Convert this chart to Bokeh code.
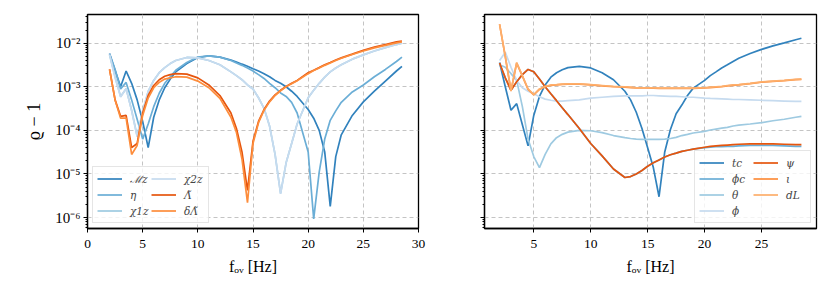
from bokeh.plotting import figure
from bokeh.models import (FixedTicker, Legend, LegendItem, CustomJSTickFormatter,
                          Range1d, ColumnDataSource)
from bokeh.layouts import row
from bokeh.embed import file_html
from bokeh.resources import INLINE

# ---------------- data ----------------
freq = [2, 2.5, 3, 3.5, 4, 4.5, 5, 5.5, 6, 6.5, 7, 7.5, 8, 9, 10, 11, 12, 13, 13.5, 14,
        14.5, 15, 15.5, 16, 16.5, 17, 17.5, 18, 18.5, 19, 20, 20.5, 21, 21.5, 22, 22.5,
        23, 24, 25, 26, 27, 28, 28.5]

# left panel: intrinsic parameters
Mz = [5.8e-3, 2.4e-3, 1.0e-3, 2.3e-3, 1.2e-3, 5.0e-4, 1.6e-4, 4.0e-5, 2.0e-4, 5.0e-4,
      9.5e-4, 1.5e-3, 2.2e-3, 3.4e-3, 4.7e-3, 5.1e-3, 4.8e-3, 4.1e-3, 3.7e-3, 3.3e-3,
      2.95e-3, 2.6e-3, 2.3e-3, 2.0e-3, 1.7e-3, 1.4e-3, 1.2e-3, 1.0e-3, 7.9e-4, 6.0e-4,
      3.0e-4, 1.9e-4, 1.0e-4, 3.2e-5, 1.8e-6, 2.5e-5, 7.9e-5, 2.2e-4, 4.5e-4, 7.9e-4,
      1.35e-3, 2.3e-3, 2.95e-3]
eta = [5.6e-3, 2.5e-3, 8.9e-4, 1.26e-3, 5.0e-4, 1.8e-4, 6.3e-5, 1.4e-4, 3.5e-4, 7.1e-4,
       1.2e-3, 1.7e-3, 2.4e-3, 3.6e-3, 4.8e-3, 5.1e-3, 4.8e-3, 4.0e-3, 3.5e-3, 3.1e-3,
       2.7e-3, 2.3e-3, 1.9e-3, 1.55e-3, 1.2e-3, 9.5e-4, 7.2e-4, 6.0e-4, 4.4e-4, 2.5e-4,
       3.2e-5, 9.3e-7, 1.1e-5, 6.3e-5, 1.7e-4, 2.8e-4, 4.4e-4, 7.6e-4, 1.1e-3, 1.7e-3,
       2.5e-3, 3.8e-3, 4.8e-3]
chi1z = [5.4e-3, 1.7e-3, 6.0e-4, 9.0e-4, 2.9e-4, 7.4e-5, 2.7e-4, 7.8e-4, 1.4e-3, 2.1e-3,
         2.75e-3, 3.4e-3, 4.0e-3, 4.7e-3, 4.6e-3, 4.0e-3, 3.2e-3, 2.2e-3, 1.8e-3, 1.45e-3,
         1.1e-3, 8.9e-4, 5.6e-4, 3.2e-4, 1.26e-4, 2.8e-5, 3.6e-6, 1.8e-5, 5.0e-5, 1.4e-4,
         5.6e-4, 8.3e-4, 1.2e-3, 1.66e-3, 2.2e-3, 2.7e-3, 3.2e-3, 4.3e-3, 5.4e-3, 6.6e-3,
         7.9e-3, 9.3e-3, 1.0e-2]
chi2z = [5.5e-3, 1.6e-3, 5.8e-4, 9.1e-4, 2.8e-4, 7.1e-5, 2.8e-4, 7.9e-4, 1.4e-3, 2.1e-3,
         2.75e-3, 3.4e-3, 4.0e-3, 4.7e-3, 4.6e-3, 4.0e-3, 3.2e-3, 2.2e-3, 1.8e-3, 1.45e-3,
         1.1e-3, 8.9e-4, 5.6e-4, 3.2e-4, 1.26e-4, 2.8e-5, 3.5e-6, 1.8e-5, 5.0e-5, 1.4e-4,
         5.6e-4, 8.3e-4, 1.2e-3, 1.66e-3, 2.2e-3, 2.7e-3, 3.2e-3, 4.3e-3, 5.4e-3, 6.6e-3,
         7.9e-3, 9.3e-3, 1.0e-2]
Lam = [2.5e-3, 5.0e-4, 2.1e-4, 2.2e-4, 4.0e-5, 5.0e-5, 2.5e-4, 6.3e-4, 1.07e-3, 1.45e-3,
       1.74e-3, 1.9e-3, 2.0e-3, 1.95e-3, 1.6e-3, 1.1e-3, 6.3e-4, 2.5e-4, 1.1e-4, 3.2e-5,
       4.2e-6, 5.6e-5, 1.6e-4, 3.0e-4, 4.7e-4, 6.5e-4, 8.3e-4, 1.02e-3, 1.2e-3, 1.4e-3,
       2.1e-3, 2.4e-3, 2.75e-3, 3.2e-3, 3.6e-3, 4.1e-3, 4.6e-3, 5.6e-3, 6.9e-3, 8.1e-3,
       9.3e-3, 1.07e-2, 1.12e-2]
dLam = [2.5e-3, 5.0e-4, 1.9e-4, 1.9e-4, 2.8e-5, 4.5e-5, 2.2e-4, 5.5e-4, 9.5e-4, 1.26e-3,
        1.5e-3, 1.6e-3, 1.7e-3, 1.66e-3, 1.35e-3, 9.5e-4, 5.4e-4, 2.0e-4, 8.9e-5, 2.2e-5,
        2.2e-6, 5.0e-5, 1.5e-4, 2.9e-4, 4.5e-4, 6.3e-4, 8.1e-4, 1.0e-3, 1.17e-3, 1.38e-3,
        2.0e-3, 2.35e-3, 2.7e-3, 3.1e-3, 3.5e-3, 4.0e-3, 4.5e-3, 5.5e-3, 6.6e-3, 7.8e-3,
        8.9e-3, 1.02e-2, 1.07e-2]

# right panel: extrinsic parameters
tc = [3.6e-3, 1.0e-3, 2.9e-4, 4.1e-4, 1.35e-4, 4.4e-5, 2.2e-4, 6.0e-4, 1.1e-3, 1.66e-3,
      2.1e-3, 2.45e-3, 2.75e-3, 2.95e-3, 2.7e-3, 2.1e-3, 1.45e-3, 7.9e-4, 5.0e-4, 2.6e-4,
      1.1e-4, 4.0e-5, 1.4e-5, 3.0e-6, 3.2e-5, 1.05e-4, 2.4e-4, 3.8e-4, 6.3e-4, 9.3e-4,
      1.4e-3, 1.8e-3, 2.2e-3, 2.7e-3, 3.2e-3, 3.8e-3, 4.5e-3, 5.8e-3, 7.2e-3, 8.7e-3,
      1.02e-2, 1.2e-2, 1.3e-2]
phic = [3.4e-3, 1.6e-3, 8.3e-4, 1.3e-3, 1.9e-3, 2.5e-3, 2.2e-3, 1.5e-3, 1.0e-3, 6.9e-4,
        4.8e-4, 3.3e-4, 2.3e-4, 1.1e-4, 5.0e-5, 2.6e-5, 1.3e-5, 8.3e-6, 8.7e-6, 1.0e-5,
        1.2e-5, 1.5e-5, 1.8e-5, 2.1e-5, 2.45e-5, 2.75e-5, 3.0e-5, 3.3e-5, 3.5e-5, 3.7e-5,
        4.0e-5, 4.1e-5, 4.2e-5, 4.2e-5, 4.3e-5, 4.3e-5, 4.4e-5, 4.5e-5, 4.5e-5, 4.5e-5,
        4.4e-5, 4.3e-5, 4.3e-5]
theta = [3.2e-3, 2.8e-3, 2.0e-3, 1.4e-3, 3.5e-4, 6.3e-5, 2.5e-5, 1.4e-5, 2.8e-5, 4.9e-5,
         6.8e-5, 8.1e-5, 9.1e-5, 1.0e-4, 9.8e-5, 8.9e-5, 7.6e-5, 6.8e-5, 6.5e-5, 6.3e-5,
         6.2e-5, 6.2e-5, 6.2e-5, 6.2e-5, 6.3e-5, 6.5e-5, 6.9e-5, 7.6e-5, 8.1e-5, 8.7e-5,
         9.5e-5, 1.02e-4, 1.07e-4, 1.12e-4, 1.17e-4, 1.26e-4, 1.32e-4, 1.4e-4, 1.5e-4,
         1.66e-4, 1.8e-4, 2.0e-4, 2.1e-4]
phi = [4.0e-3, 6.2e-3, 2.8e-3, 1.4e-3, 9.5e-4, 7.9e-4, 6.9e-4, 5.9e-4, 5.2e-4, 4.9e-4,
       4.7e-4, 4.7e-4, 4.8e-4, 5.0e-4, 5.5e-4, 5.75e-4, 6.0e-4, 6.2e-4, 6.2e-4, 6.2e-4,
       6.2e-4, 6.3e-4, 6.3e-4, 6.2e-4, 6.1e-4, 6.0e-4, 6.0e-4, 5.9e-4, 5.8e-4, 5.75e-4,
       5.5e-4, 5.4e-4, 5.35e-4, 5.3e-4, 5.2e-4, 5.1e-4, 5.1e-4, 5.0e-4, 4.9e-4, 4.8e-4,
       4.7e-4, 4.6e-4, 4.6e-4]
psi = [3.5e-3, 1.6e-3, 8.3e-4, 1.3e-3, 1.9e-3, 2.5e-3, 2.2e-3, 1.5e-3, 1.0e-3, 6.9e-4,
       4.8e-4, 3.3e-4, 2.3e-4, 1.1e-4, 5.0e-5, 2.6e-5, 1.3e-5, 8.3e-6, 8.7e-6, 1.0e-5,
       1.2e-5, 1.5e-5, 1.8e-5, 2.1e-5, 2.45e-5, 2.75e-5, 3.0e-5, 3.3e-5, 3.5e-5, 3.7e-5,
       4.1e-5, 4.3e-5, 4.4e-5, 4.5e-5, 4.6e-5, 4.7e-5, 4.8e-5, 4.9e-5, 4.9e-5, 4.9e-5,
       4.8e-5, 4.7e-5, 4.7e-5]
iota = [2.7e-2, 4.9e-3, 8.0e-4, 3.5e-3, 1.75e-3, 8.7e-4, 6.5e-4, 8.7e-4, 1.0e-3, 1.08e-3,
        1.1e-3, 1.13e-3, 1.15e-3, 1.15e-3, 1.1e-3, 1.05e-3, 1.0e-3, 9.8e-4, 9.6e-4, 9.4e-4,
        9.4e-4, 9.4e-4, 9.3e-4, 9.2e-4, 9.2e-4, 9.2e-4, 9.2e-4, 9.2e-4, 9.2e-4, 9.2e-4,
        9.4e-4, 9.6e-4, 9.8e-4, 1.0e-3, 1.05e-3, 1.08e-3, 1.1e-3, 1.18e-3, 1.27e-3,
        1.33e-3, 1.38e-3, 1.46e-3, 1.48e-3]
dL = [2.75e-2, 5.0e-3, 8.1e-4, 3.6e-3, 1.8e-3, 8.9e-4, 6.6e-4, 8.9e-4, 1.02e-3, 1.1e-3,
      1.12e-3, 1.15e-3, 1.17e-3, 1.17e-3, 1.12e-3, 1.07e-3, 1.02e-3, 1.0e-3, 9.8e-4, 9.5e-4,
      9.5e-4, 9.5e-4, 9.4e-4, 9.3e-4, 9.3e-4, 9.3e-4, 9.3e-4, 9.3e-4, 9.3e-4, 9.3e-4,
      9.5e-4, 9.8e-4, 1.0e-3, 1.02e-3, 1.07e-3, 1.1e-3, 1.12e-3, 1.2e-3, 1.29e-3,
      1.35e-3, 1.4e-3, 1.48e-3, 1.5e-3]

left_series = [("ℳz", Mz), ("η", eta), ("χ1z", chi1z),
               ("χ2z", chi2z), ("Λ\u0303", Lam), ("δΛ\u0303", dLam)]
right_series = [("tc", tc), ("ϕc", phic), ("θ", theta), ("ϕ", phi),
                ("ψ", psi), ("ι", iota), ("dL", dL)]

left_xticks = [0, 5, 10, 15, 20, 25, 30]
right_xticks = [5, 10, 15, 20, 25]
y_major = [1e-6, 1e-5, 1e-4, 1e-3, 1e-2]

COLORS = ["#3182bd", "#6baed6", "#9ecae1", "#c6dbef", "#e6550d", "#fd8d3c", "#fdae6b"]
FONT = "Liberation Serif"
LEG_FONT = "DejaVu Serif"

y_minor = [m * 10.0 ** e for e in range(-7, 0) for m in range(2, 10)]

sup_fmt = CustomJSTickFormatter(code="""
const e = Math.round(Math.log10(tick));
const sup = {"-":"\u207b","0":"\u2070","1":"\u00b9","2":"\u00b2","3":"\u00b3","4":"\u2074",
             "5":"\u2075","6":"\u2076","7":"\u2077","8":"\u2078","9":"\u2079"};
return "10" + String(e).split("").map(c => sup[c]).join("");
""")
blank_fmt = CustomJSTickFormatter(code="return '';")


def make_panel(series, xr, xticks, show_ylab, mb_left, mb_right, frame_w, legend_loc, nrows):
    p = figure(frame_width=frame_w, frame_height=214, y_axis_type="log",
               x_range=Range1d(*xr), y_range=Range1d(5.6e-7, 4.55e-2),
               output_backend="svg", toolbar_location=None,
               min_border_left=mb_left, min_border_right=mb_right,
               min_border_top=14, min_border_bottom=64)
    p.background_fill_color = "white"
    p.border_fill_color = "white"
    p.outline_line_color = "black"
    p.outline_line_width = 1.3

    items = []
    for i, (lab, vals) in enumerate(series):
        src = ColumnDataSource(dict(x=freq, y=vals))
        r = p.line("x", "y", source=src, line_color=COLORS[i], line_width=1.7)
        items.append(LegendItem(label=lab, renderers=[r]))

    p.xaxis.ticker = FixedTicker(ticks=xticks, minor_ticks=[])
    p.yaxis.ticker = FixedTicker(ticks=y_major, minor_ticks=y_minor)
    p.yaxis.formatter = sup_fmt if show_ylab else blank_fmt

    for ax in (p.xaxis, p.yaxis):
        ax.axis_line_width = 1.3
        ax.axis_line_color = "black"
        ax.major_tick_line_color = "black"
        ax.minor_tick_line_color = "black"
        ax.major_tick_in = 0
        ax.major_tick_out = 4
        ax.minor_tick_in = 0
        ax.minor_tick_out = 2
        ax.major_label_text_font = FONT
        ax.major_label_text_font_size = "13.5px"
        ax.major_label_text_color = "black"
        ax.axis_label_text_font = FONT
        ax.axis_label_text_font_size = "16px"
        ax.axis_label_text_font_style = "normal"
        ax.axis_label_text_color = "black"
    p.yaxis.major_label_text_font_size = "15px"
    p.xaxis.major_label_standoff = 7
    p.xaxis.axis_label = "fₒᵥ [Hz]"
    p.xaxis.axis_label_standoff = 7
    p.yaxis.major_label_standoff = 3
    if show_ylab:
        p.yaxis.axis_label = "ϱ − 1"
        p.yaxis.axis_label_text_font_size = "18px"
        p.yaxis.axis_label_standoff = 8

    p.grid.grid_line_color = "#c4c4c4"
    p.grid.grid_line_dash = "4 3"
    p.grid.grid_line_width = 1
    p.ygrid.minor_grid_line_color = None

    leg = Legend(items=items, location=legend_loc, nrows=nrows, orientation="vertical")
    leg.label_text_font = LEG_FONT
    leg.label_text_font_size = "10.5px"
    leg.label_text_font_style = "italic"
    leg.glyph_width = 25
    leg.glyph_height = 15
    leg.label_height = 15
    leg.label_standoff = 8
    leg.spacing = 1
    leg.padding = 4
    leg.margin = 5
    leg.border_line_color = "#cccccc"
    leg.border_line_width = 1
    leg.background_fill_alpha = 0.8
    p.add_layout(leg)
    return p


left = make_panel(left_series, (0, 30), left_xticks, True, 87, 10, 331, "bottom_left", 3)
right = make_panel(right_series, (0.675, 29.825), right_xticks, False, 56, 8, 332,
                   "bottom_right", 4)

layout = row(left, right)
open("out.html", "w").write(file_html(layout, INLINE))
